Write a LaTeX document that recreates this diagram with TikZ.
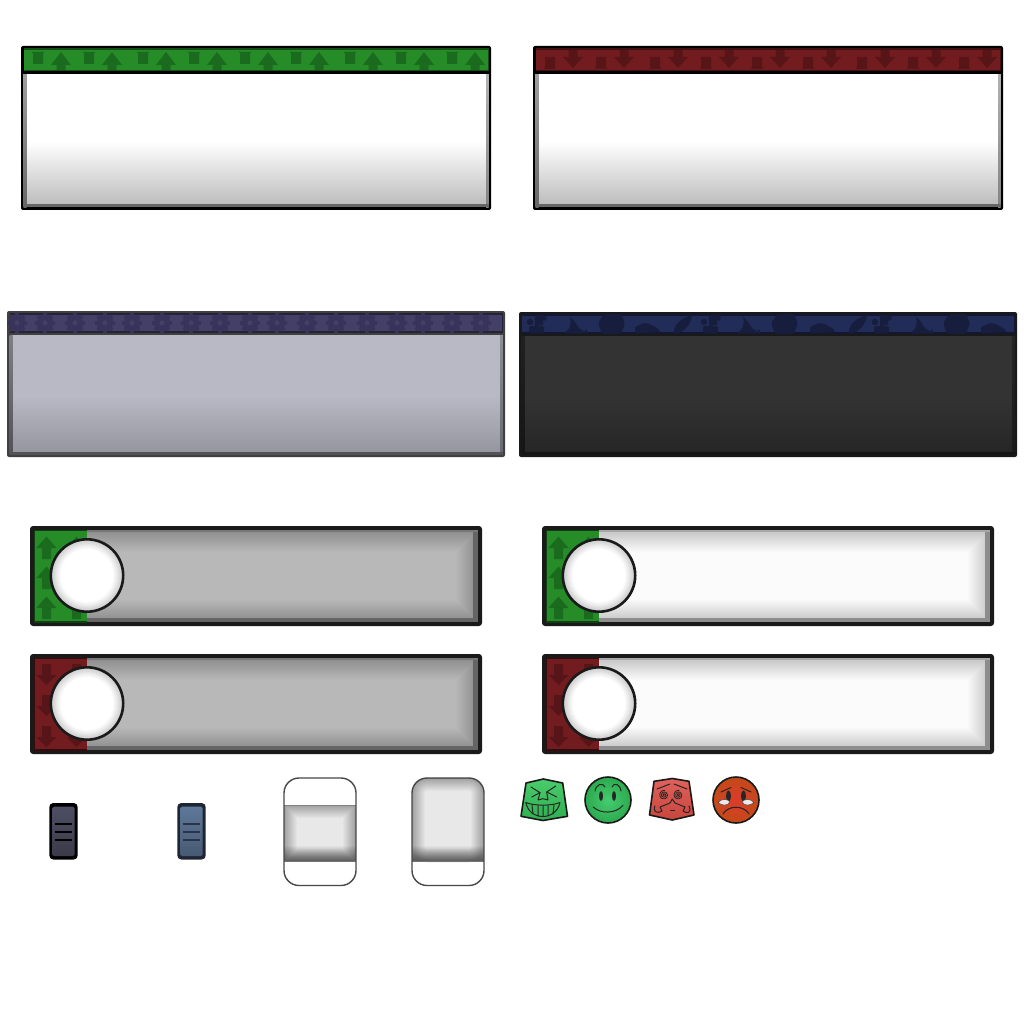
\documentclass[tikz,border=0pt]{standalone}
\usepackage{tikz}

\definecolor{greenhead}{HTML}{268C28}
\definecolor{greenmark}{HTML}{1B6B1E}
\definecolor{redhead}{HTML}{731C1F}
\definecolor{redmark}{HTML}{581518}
\definecolor{purplehead}{HTML}{443F66}
\definecolor{purplemark}{HTML}{38335A}
\definecolor{navyhead}{HTML}{222C58}
\definecolor{navymark}{HTML}{171D3C}
\definecolor{rimdark}{HTML}{1A1A1A}
\definecolor{fadegrey}{HTML}{BBBBBB}
\definecolor{lilactop}{HTML}{B9B9C5}
\definecolor{lilacbot}{HTML}{95959F}
\definecolor{coaltop}{HTML}{333333}
\definecolor{coalbot}{HTML}{262626}
\definecolor{slateedge}{HTML}{8C8C8C}
\definecolor{slatemid}{HTML}{B8B8B8}
\definecolor{paleedge}{HTML}{C4C4C4}
\definecolor{palemid}{HTML}{FBFBFB}
\definecolor{handleedge}{HTML}{A0A0A0}
\definecolor{handlemid}{HTML}{E8E8E8}
\definecolor{gripdark}{HTML}{4E4E63}
\definecolor{gripblue}{HTML}{5F7899}
\definecolor{gripblueedge}{HTML}{1F2633}
\definecolor{gripblueline}{HTML}{2A3448}
\definecolor{tilegreentop}{HTML}{4ACB6C}
\definecolor{tilegreenbot}{HTML}{2FB050}
\definecolor{ballgreen}{HTML}{45CC6E}
\definecolor{ballgreenrim}{HTML}{2DA94F}
\definecolor{tileredtop}{HTML}{E0625C}
\definecolor{tileredbot}{HTML}{C8453C}
\definecolor{ballred}{HTML}{DE3A2C}
\definecolor{ballredrim}{HTML}{C24A18}

\tikzset{
  faceline/.style={draw=black!85, line width=1pt, line cap=round, line join=round},
  eyeblob/.style={fill=black!85},
  tileedge/.style={draw=black!90, line width=1.6pt, line join=round},
}

% x0 x1 y0 yh y1 border head bodytop bodybot
\newcommand{\panel}[9]{
\fill[#6, rounded corners=2pt] (#1,#3) rectangle (#2,#5);
\fill[#8] (#1+2.5,#4) rectangle (#2-2.5,#5-2.5);
\pgfmathsetmacro{\midy}{#4+0.5*(#5-#4)}
\shade[top color=#8, bottom color=#9] (#1+2.5,\midy) rectangle (#2-2.5,#5-4);
\shade[top color=#9!85!black, bottom color=#9!55!black] (#1+2.5,#4+1) rectangle (#1+5.5,#5-2.5);
\shade[top color=#9!95!black, bottom color=#9!70!black] (#2-5,#4+1) rectangle (#2-2.5,#5-2.5);
\fill[#9!55!black] (#1+2.5,#5-5.5) rectangle (#2-2.5,#5-2.5);
\fill[#7!55!black] (#1+2.5,#3+2) rectangle (#2-2.5,#4-1.5);
\fill[#7] (#1+3,#3+4) rectangle (#2-3,#4-3);
\fill[#6] (#1+1,#4-1.5) rectangle (#2-1,#4+1);
}

% x y (apex) h hb colour
\newcommand{\glyph}[5]{
\fill[#5, shift={(#1,#2)}] (0,0) -- (10,#4) -- (4.5,#4) -- (4.5,#3) -- (-4.5,#3) -- (-4.5,#4) -- (-10,#4) -- cycle;
}

% x0 y0 x1 y1 radius depth edge mid
\newcommand{\glowbox}[8]{
\foreach \k in {0,...,#6} {
  \pgfmathtruncatemacro{\pct}{100*\k/#6}
  \pgfmathsetmacro{\rad}{max(#5-\k,0)}
  \fill[rounded corners=\rad pt, color=#8!\pct!#7] (#1+\k,#2+\k) rectangle (#3-\k,#4-\k);
}
}

% x y panelcol markcol apexlist h hb edge mid
\newcommand{\slider}[9]{
\begin{scope}[shift={(#1,#2)}]
\fill[rimdark, rounded corners=3pt] (0,0) rectangle (452,100);
\glowbox{4}{4}{448}{96}{0}{22}{#8}{#9}
\fill[#8!72!black] (443,4) rectangle (448,96);
\fill[#8!72!black] (4,92) rectangle (448,96);
\fill[#8!85!black] (4,4) rectangle (448,6);
\fill[#3] (3.5,3.5) rectangle (56.5,96.5);
\begin{scope}
\clip (3.5,3.5) rectangle (56.5,96.5);
\foreach \ay in {#5} {
  \glyph{16.5}{\ay}{#6}{#7}{#4}
  \glyph{46.5}{\ay}{#6}{#7}{#4}
}
\end{scope}
\fill[#3!45!black] (3.5,3.5) rectangle (56.5,5);
\fill[#3!45!black] (3.5,95) rectangle (56.5,96.5);
\fill[#3!45!black] (3.5,3.5) rectangle (5,96.5);
\foreach \k in {0,...,10} {
  \pgfmathtruncatemacro{\pct}{2.2*(10-\k)}
  \fill[color=black!\pct] (57,49.5) circle ({36.5-\k});
}
\draw[rimdark, line width=2.6pt] (57,49.5) circle (36.2);
\end{scope}
}

% cx edge inner line
\newcommand{\grip}[4]{
\fill[#2, rounded corners=4pt] (#1-14.2,803) rectangle (#1+14.2,859.5);
\shade[top color=#3, bottom color=#3!75!black, rounded corners=1.5pt] (#1-11,806.5) rectangle (#1+11,856);
\foreach \ly in {823.7,831.7,839.7} {
  \fill[#4] (#1-8.5,\ly-1) rectangle (#1+8.5,\ly+1);
}
}

% x0 band top band bottom radius
\newcommand{\bighandle}[4]{
\fill[white, rounded corners=15pt] (#1,778) rectangle (#1+72,885.5);
\begin{scope}
\clip[rounded corners=15pt] (#1,778) rectangle (#1+72,885.5);
\fill[handleedge] (#1,#2) rectangle (#1+72,#3);
\begin{scope}
\clip (#1,#2) rectangle (#1+72,#3);
\glowbox{#1}{#2}{#1+72}{#3}{#4}{13}{handleedge}{handlemid}
\foreach \k in {0,...,15} {
  \fill[black, opacity=0.03] (#1,#3-16+\k) rectangle (#1+72,#3);
}
\end{scope}
\fill[black!50] (#1,#2) rectangle (#1+72,#2+0.8);
\fill[black!55] (#1,#3-0.8) rectangle (#1+72,#3);
\end{scope}
\draw[black!72, line width=1.4pt, rounded corners=15pt] (#1,778) rectangle (#1+72,885.5);
}

\begin{document}
\begin{tikzpicture}[x=1pt,y=-1pt]
\useasboundingbox (0,0) rectangle (1024,1024);
\fill[white] (0,0) rectangle (1024,1024);

% top row
\panel{21}{491}{46}{73}{210}{black}{greenhead}{white}{fadegrey}
\foreach \x in {33,84,138,189,240,291,345,396,447} {
  \fill[greenmark] (\x,52) rectangle (\x+10,64) (\x-1,52) rectangle (\x+11,53);
}
\foreach \x in {61,112,166,217,268,319,373,424,475} {
  \glyph{\x}{52}{18}{13}{greenmark}
}

\panel{533}{1003}{46}{73}{210}{black}{redhead}{white}{fadegrey}
\foreach \x in {545,596,650,701,752,803,857,908,959} {
  \fill[redmark] (\x,57) rectangle (\x+10,69) (\x-1,68) rectangle (\x+11,69);
}
\foreach \x in {573,624,678,729,780,831,885,936,987} {
  \glyph{\x}{68}{-18}{-11}{redmark}
}

% second row
\panel{7}{505}{311}{334}{457}{black!75}{purplehead}{lilactop}{lilacbot}
\foreach \x in {17,45,75,105,132,162,191,220,250,277,307,336,367,397,423,452,481} {
  \fill[purplemark] (\x,323) circle (8.2);
  \foreach \a in {0,45,...,315} {
    \fill[purplemark, shift={(\x,323)}, rotate=\a] (-2,-7.5) rectangle (2,-10);
  }
  \fill[purplehead] (\x,323) circle (2.6);
}

\panel{519}{1017}{312}{335}{457}{black!90}{navyhead}{coaltop}{coalbot}
% plant
\foreach \x in {538,712,883} {
  \fill[navymark, rounded corners=1.5pt] (\x-9,326) rectangle (\x+6,333.5);
  \fill[navymark] (\x-8,322) circle (3.2) (\x+1,319) circle (4.4) (\x+6,318) circle (2.8) (\x+3,323) circle (2.4);
  \fill[navymark] (\x-3,320) rectangle (\x+1,327);
}
% hat
\foreach \x in {577,750,923} {
  \fill[navymark] (\x-13,333.5) .. controls (\x-8,330) and (\x-5,326) .. (\x-7,317)
    .. controls (\x,322) and (\x+1,330) .. (\x+5,330) -- (\x+7,332) -- (\x+9,329) -- (\x+11,333.5) -- cycle;
}
% blob
\foreach \x in {612,785,957} {
  \fill[navymark, rounded corners=2pt] (\x-14,323) -- (\x-8,314.5) -- (\x+9,314) -- (\x+13,323) -- (\x+9,334) -- (\x-10,334) -- cycle;
}
% shoe
\foreach \x in {647,822,993} {
  \fill[navymark, rounded corners=1.5pt] (\x-12,327) -- (\x-3,323) -- (\x+3,324) -- (\x+13,330) -- (\x+13,332) -- (\x-12,333.5) -- cycle;
}
% leaf
\foreach \x in {682,857} {
  \fill[navymark] (\x-8,333.5) .. controls (\x-9,324) and (\x,318) .. (\x+10,315)
    .. controls (\x+9,324) and (\x+3,331) .. (\x-5,333.5) -- cycle;
}

% sliders
\slider{30}{526}{greenhead}{greenmark}{10.5,40.5,70.5}{22.5}{11.5}{slateedge}{slatemid}
\slider{542}{526}{greenhead}{greenmark}{10.5,40.5,70.5}{22.5}{11.5}{paleedge}{palemid}
\slider{30}{654}{redhead}{redmark}{31,62,93}{-21}{-10}{slateedge}{slatemid}
\slider{542}{654}{redhead}{redmark}{31,62,93}{-21}{-10}{paleedge}{palemid}

% small grips
\grip{63.5}{black}{gripdark}{black}
\grip{191.5}{gripblueedge}{gripblue}{gripblueline}

% large handles
\bighandle{284}{804.5}{862}{0}
\bighandle{412}{778}{862}{15}

% green tile
\shade[top color=tilegreentop, bottom color=tilegreenbot, tileedge] (526,783) -- (543.3,779) -- (562.7,783) -- (567.5,816.3) -- (543,820.5) -- (521,816.3) -- cycle;
\draw[faceline] (531,787) -- (540,792.7) -- (531.7,797);
\draw[faceline] (555.7,786) -- (546.7,792) -- (556.7,797);
\draw[faceline] (540,792.7) -- (538,800) -- (543,798.7) -- (548,800) -- (546.7,792);
\draw[faceline] (525.7,802.5) .. controls (534,806) and (552,806) .. (560,802.5) .. controls (558,812) and (550,816.5) .. (543,816.5) .. controls (535,816.5) and (528,812) .. (525.7,802.5) -- cycle;
\draw[faceline] (532,805) -- (533,814) (538,805.5) -- (538,816) (543,805.5) -- (543,816.5) (548,805.5) -- (548,816) (554,805) -- (553,814);

% green smile
\shade[inner color=ballgreen, outer color=ballgreenrim, draw=black!90, line width=1.6pt] (608,800) circle (23);
\fill[eyeblob] (601,796) ellipse (2 and 5) (614,796) ellipse (2 and 5);
\draw[faceline] (595,791) .. controls (596,784) and (603,782) .. (605,787);
\draw[faceline] (612,787) .. controls (614,782) and (620,784) .. (621,791);
\draw[faceline] (593.3,807) .. controls (600,814) and (616,814) .. (623,805.3);

% red tile
\shade[top color=tileredtop, bottom color=tileredbot, tileedge] (654,781.3) -- (672.3,778.5) -- (689,781.3) -- (694,815) -- (672.3,820) -- (649.5,815) -- cycle;
\draw[faceline] (657,789) -- (670,784);
\draw[faceline] (674,784) -- (687,789);
\draw[faceline, line width=0.8pt, domain=0:1000, samples=50, smooth, variable=\t] plot ({664+0.0047*\t*cos(\t)},{795+0.0047*\t*sin(\t)});
\draw[faceline, line width=0.8pt, domain=0:1000, samples=50, smooth, variable=\t] plot ({678.3+0.0047*\t*cos(\t)},{795+0.0047*\t*sin(\t)});
\draw[faceline] (655,806) .. controls (652,812) and (658,814) .. (662,811) -- (660,807) -- (670,803) -- (672.3,799) -- (675,803) -- (685,807) -- (683,811) .. controls (687,814) and (692,813) .. (689,806);
\draw[faceline] (670.5,810) -- (674.5,810);

% red circle
\shade[inner color=ballred, outer color=ballredrim, draw=black!90, line width=1.6pt] (736,800) circle (23);
\fill[eyeblob] (728.5,796) ellipse (2.5 and 5.5) (743.5,796) ellipse (2.5 and 5.5);
\draw[faceline] (721,792) -- (731,787.5);
\draw[faceline] (741,787.5) -- (751,792);
\fill[black!8, draw=black!70, line width=0.5pt] (718,802.5) .. controls (722,798) and (728,799) .. (730,802) .. controls (728,806) and (722,806) .. (718,802.5) -- cycle;
\fill[black!8, draw=black!70, line width=0.5pt] (754,802.5) .. controls (750,798) and (744,799) .. (742,802) .. controls (744,806) and (750,806) .. (754,802.5) -- cycle;
\draw[faceline, line width=1.1pt] (723,814) .. controls (728,805) and (744,805) .. (749,814);

\end{tikzpicture}
\end{document}
